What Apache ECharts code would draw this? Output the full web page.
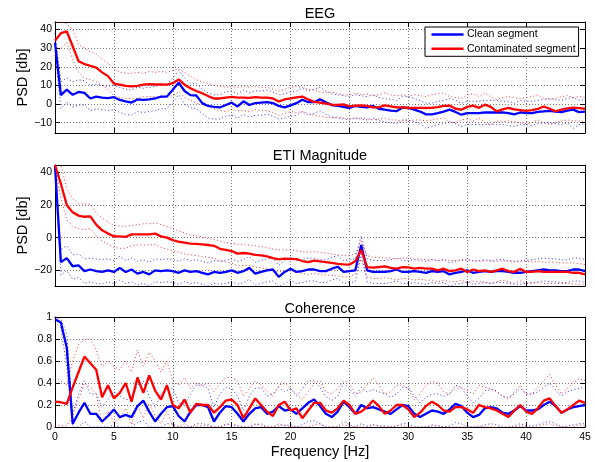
<!DOCTYPE html>
<html>
<head>
<meta charset="utf-8">
<script src="https://cdn.jsdelivr.net/npm/echarts@6/dist/echarts.min.js"></script>
<style>
html, body { margin: 0; padding: 0; background: #fff; }
#chart { width: 595px; height: 462px; }
</style>
</head>
<body>
<div id="chart"></div>
<script>
// sampling grid of the spectra, 0..45 Hz in 0.5 Hz steps
var freq = [];
for (var k = 0; k <= 90; k++) freq.push(k / 2);

var freqTicks = [0, 5, 10, 15, 20, 25, 30, 35, 40, 45];
var eegTicks = [-10, 0, 10, 20, 30, 40];
var etiTicks = [-20, 0, 20, 40];
var cohTicks = [0, 0.2, 0.4, 0.6, 0.8, 1];

// EEG PSD [db]
var eegClean = [
  33, 4.8, 7.7, 5, 6.5, 6, 3, 4, 3.5, 3.2,
  3.7, 2.2, 1.4, 0.8, 2.5, 2.3, 2.5, 3, 4, 4,
  7.7, 11.5, 7, 4.8, 4.6, 0.5, -1, -1.5, -1.8, -0.5,
  0.8, -1.3, 1.5, -0.5, 0.5, 0.8, 1.1, 0.5, -1, -1.8,
  -0.7, 0.5, 2.3, 1, 1, 2.6, 1, -0.5, -1, -1.5,
  -2.1, -1, -1.5, -1.8, -1, -2.5, -3, -3.5, -3.8, -1.8,
  -2.1, -3, -4, -5.5, -5.5, -4.8, -4, -3, -4.2, -5.7,
  -4.8, -4.8, -4.8, -4.5, -4.5, -4.5, -4.5, -4.8, -5.5, -4.5,
  -4.8, -4.8, -4.2, -3.9, -3.6, -4, -4.3, -3.5, -3, -4.3,
  -4
];
var eegCont = [
  34, 38, 39, 31, 23, 21.5, 20.5, 19.5, 17, 15,
  11, 10.4, 9.8, 9.5, 9.8, 10.4, 10.7, 10.5, 10.6, 10.4,
  11.2, 13.2, 10.4, 8.5, 7, 5.8, 4.3, 3, 3, 3.5,
  3.9, 3.5, 3.5, 3.3, 3.7, 3.5, 3.5, 3, 1.4, 2.5,
  3, 3.6, 4, 2.5, 1.2, 0.8, 0.3, -0.3, -0.5, -0.2,
  -1.2, -0.8, -0.7, -1, -1.8, -1.8, -0.7, -1.2, -1.8, -1.8,
  -2.1, -2, -2, -2.1, -2, -1.6, -1, -0.8, -2.5, -3,
  -1.5, -0.8, -2, -0.3, -1.5, -3.9, -2.8, -2, -2.8, -3.2,
  -3.6, -3.2, -2.6, -1.3, -2.5, -3.9, -3, -2.3, -1.9, -2.2,
  -2.5
];
var eegContHi = [
  44, 44, 43, 40, 32, 30, 28, 27, 24, 22,
  19, 17, 16.5, 16.5, 17, 16.5, 17.5, 17, 17.5, 17,
  18, 19, 17, 15, 13, 12, 11, 10, 9.5, 9,
  9.5, 9, 9.5, 9, 9.5, 9, 9, 8, 7, 8,
  9, 9.5, 9, 8, 7.5, 6.5, 6, 6.5, 5.5, 5,
  5, 6, 5, 5.5, 4.5, 5, 6, 5, 4.5, 5,
  4, 5, 4.5, 4, 5, 5.5, 6, 4, 3.5, 3,
  5, 5.5, 4, 6, 4, 2.5, 3.5, 4, 3.5, 3,
  3.5, 4, 5, 3, 2.5, 3, 4, 4.5, 3.5, 4,
  3.5
];
var eegContLo = [
  26, 30, 33, 24, 17, 14, 13, 12, 10, 8,
  4.5, 3.5, 3, 3, 3, 4, 4, 4, 3.5, 4,
  4.5, 6.5, 3.5, 2, 0.5, -0.5, -1.5, -2.5, -3.5, -4,
  -3, -3.5, -3.5, -4, -3, -3.5, -3.5, -4.5, -6, -5,
  -4, -4.5, -4, -5, -6, -6.5, -7, -7.5, -7, -7.5,
  -8, -7.5, -7.5, -8, -8.5, -8, -7.5, -8.5, -8.5, -9,
  -9, -8.5, -8.5, -9, -8.5, -8, -7.5, -9.5, -10, -8.5,
  -8, -9, -7.5, -10, -11, -9, -9.5, -9, -9.5, -10,
  -10.5, -10, -8.5, -10, -11, -10, -9, -8.5, -9, -9,
  -9.5
];
var eegCleanHi = [
  38, 12, 14, 12, 13, 12.5, 10, 10.5, 10, 9.5,
  10, 9, 8, 7.5, 9, 8.5, 9, 9.5, 10.5, 10.5,
  14, 18, 14, 11, 11, 8, 6, 5, 5, 6.5,
  7, 5.5, 7.5, 6, 7, 7, 7.5, 6.5, 5, 5.5,
  6.5, 7, 8.5, 7, 8, 9, 7, 5.5, 5, 4.5,
  4, 5, 4.5, 4, 5, 3.5, 3, 2.5, 2, 4,
  4, 3, 2, 0.5, 0.5, 1.5, 2, 3, 2, 0.5,
  1.5, 1.5, 1.5, 2, 2, 2, 1.5, 1.5, 0.5, 2,
  1.5, 1.5, 2, 2.5, 3, 2.5, 2, 3, 3.5, 2,
  2.5
];
var eegCleanLo = [
  28, -2.5, 1, -1.5, -0.5, -0.5, -3.5, -2.5, -3, -3.5,
  -3, -4.5, -5.5, -6, -4, -4.5, -4, -3.5, -2.5, -2.5,
  1, 5, 0, -2, -2.5, -5, -7.5, -8, -8, -6.5,
  -6, -7.5, -5.5, -7, -6, -6, -5.5, -6.5, -8, -7.5,
  -6.5, -6, -4, -6, -5, -3.5, -5.5, -7, -7.5, -8,
  -8.5, -7.5, -8, -8.5, -7.5, -9, -9.5, -10, -10.5, -8.5,
  -8.5, -9.5, -10.5, -13, -12, -11, -10.5, -9.5, -10.5, -12,
  -11, -11, -11, -11, -11, -11, -11, -11.5, -12, -11,
  -11, -11.5, -10.5, -10, -10, -10.5, -11, -10, -13, -11,
  -10.5
];

// ETI magnitude PSD [db]
var etiClean = [
  44, -15, -12.5, -17.5, -17, -20.5, -19.5, -20.5, -21, -20,
  -21, -18.5, -21, -19.5, -22, -21, -22.5, -20, -20.5, -20,
  -20.5, -21.5, -20, -21, -20.5, -21.5, -22.5, -21, -21.5, -21,
  -20, -21.5, -20.5, -18.5, -22, -21, -20, -19.5, -24, -21,
  -19, -21, -20.5, -19.5, -19.5, -20.5, -20.5, -19, -17.8, -21,
  -20.5, -20, -4.5, -20, -21, -21, -21, -20.5, -19.5, -21,
  -21, -20.5, -21, -21.5, -20.5, -21, -20.5, -22.5, -21.5, -21,
  -20, -21.5, -21, -20.5, -21, -20.5, -20.5, -21, -21.5, -21.5,
  -21, -20.5, -20, -19.5, -20, -20, -20.5, -20.5, -19.5, -19.5,
  -20.5
];
var etiCont = [
  44.5, 33, 20, 15.5, 13.5, 12.8, 13, 8, 4.5, 2.5,
  0.8, 0.8, 0.5, 2, 2, 2, 2, 2.5, 0.8, 0,
  -1.5, -2.5, -3, -3.7, -3.8, -4.1, -4.5, -5, -6.8, -7.5,
  -8.2, -9.8, -9.4, -9.8, -10.5, -10.9, -11.5, -12.5, -13.3, -12.9,
  -13, -13.2, -14.3, -15, -14, -14.5, -15, -15.5, -16, -16.4,
  -16.5, -14.5, -7.5, -18, -18.4, -18, -17.6, -18.5, -19, -18,
  -18.2, -19, -18.5, -19, -19, -20, -19, -20.5, -20, -19,
  -21, -19.5, -20.5, -20, -21, -20, -19, -20.5, -21, -19,
  -21, -21, -20.5, -21, -21, -21, -21, -21, -21.5, -21.5,
  -22.5
];
var etiContHi = [
  44.5, 44.5, 30, 24, 21, 20.5, 20.5, 15, 12, 9.5,
  7.5, 7, 7, 7.5, 8, 8.5, 8.5, 9, 8, 7,
  5.5, 4, 3, 1.5, 1, 0.5, -0.5, -1, -2, -3,
  -3.5, -4, -4.5, -4.5, -5, -5.5, -6, -7, -7.5, -7.5,
  -7.5, -8, -8.5, -9, -8.5, -9, -9.5, -10, -10.5, -11,
  -11, -10, -2, -11, -12, -12, -12.5, -12.5, -13, -12.5,
  -12.5, -13, -13, -13.5, -13.5, -14, -13.5, -14, -14, -13.5,
  -14, -14, -14.5, -14, -14.5, -14.5, -14, -14.5, -15, -14,
  -14.5, -15, -14.5, -15, -15, -15, -15.5, -15.5, -15.5, -16,
  -16.5
];
var etiContLo = [
  44, 24, 11, 7, 5.5, 5, 5.5, 1, -2, -4,
  -6, -6.5, -6.5, -5, -4.5, -4.5, -4.5, -4, -6, -7,
  -8, -9, -10, -10.5, -11, -11.5, -12, -12.5, -14, -15,
  -15.5, -17, -17, -17, -18, -18.5, -19, -20, -21, -20.5,
  -20.5, -21, -22, -22.5, -22, -22.5, -23, -23, -23.5, -24,
  -24, -22.5, -13, -24, -25, -25, -24.5, -25, -26, -25,
  -25, -26, -25.5, -26, -26, -27, -26, -27, -27, -26,
  -27.5, -26.5, -27, -27, -28, -27, -26, -27, -28, -26.5,
  -28, -28, -27.5, -28, -28, -28, -28, -28, -28.5, -28.5,
  -29
];
var etiCleanHi = [
  44, -7, -5, -10.5, -10, -13, -12.5, -13, -13.5, -13,
  -14, -11.5, -14, -12.5, -14.5, -13.5, -15, -13, -13.5, -13,
  -13.5, -14.5, -13, -14, -13.5, -14.5, -15.5, -14, -14.5, -14,
  -13, -14.5, -13.5, -11.5, -15, -14, -13, -12.5, -17, -14,
  -12, -14, -13.5, -12.5, -12.5, -13.5, -13.5, -12, -11, -14,
  -13.5, -13, 1, -13, -14, -14, -14, -13.5, -12.5, -14,
  -14, -13.5, -14, -14.5, -13.5, -14, -13.5, -15.5, -14.5, -14,
  -13, -14.5, -14, -13.5, -14, -13.5, -13.5, -14, -14.5, -14.5,
  -14, -13.5, -13, -12.5, -13, -13, -13.5, -13.5, -12.5, -12.5,
  -13.5
];
var etiCleanLo = [
  44, -23, -20, -25.5, -24.5, -28, -27, -28, -28.5, -27,
  -28, -26, -28, -27, -29, -28, -29.5, -27, -27.5, -27,
  -27.5, -28.5, -27, -28, -27.5, -28.5, -29.5, -28, -28.5, -28,
  -27, -28.5, -27.5, -25.5, -29, -28, -27, -26.5, -30, -28,
  -26, -28, -27.5, -26.5, -26.5, -27.5, -27.5, -26, -25, -28,
  -27.5, -27, -10, -27, -28, -28, -28, -27.5, -26.5, -28,
  -28, -27.5, -28, -28.5, -27.5, -28, -27.5, -29.5, -28.5, -28,
  -27, -28.5, -28, -27.5, -28, -27.5, -27.5, -28, -28.5, -28.5,
  -28, -27.5, -27, -26.5, -27, -27, -27.5, -27.5, -26.5, -26.5,
  -27.5
];

// coherence
var cohClean = [
  0.98, 0.95, 0.72, 0.03, 0.13, 0.22, 0.12, 0.12, 0.05, 0.1,
  0.16, 0.09, 0.11, 0.09, 0.19, 0.24, 0.14, 0.05, 0.12, 0.18,
  0.19, 0.1, 0.05, 0.14, 0.2, 0.2, 0.18, 0.05, 0.13, 0.19,
  0.18, 0.12, 0.05, 0.12, 0.17, 0.18, 0.12, 0.14, 0.19, 0.15,
  0.16, 0.12, 0.17, 0.22, 0.25, 0.19, 0.12, 0.09, 0.14, 0.23,
  0.18, 0.12, 0.2, 0.17, 0.18, 0.16, 0.14, 0.12, 0.16, 0.2,
  0.19, 0.12, 0.09, 0.12, 0.15, 0.14, 0.12, 0.16, 0.21, 0.19,
  0.13, 0.09, 0.11, 0.17, 0.18, 0.17, 0.13, 0.12, 0.15, 0.19,
  0.15, 0.15, 0.16, 0.2, 0.23, 0.19, 0.13, 0.16, 0.18, 0.19,
  0.2
];
var cohCont = [
  0.23, 0.225, 0.21, 0.36, 0.5, 0.64, 0.58, 0.52, 0.27, 0.38,
  0.26, 0.31, 0.4, 0.23, 0.45, 0.31, 0.47, 0.33, 0.25, 0.38,
  0.2, 0.17, 0.25, 0.13, 0.21, 0.2, 0.2, 0.13, 0.18, 0.24,
  0.25, 0.2, 0.08, 0.17, 0.26, 0.2, 0.14, 0.1, 0.2, 0.23,
  0.15, 0.17, 0.08, 0.15, 0.22, 0.22, 0.15, 0.13, 0.17, 0.24,
  0.2, 0.12, 0.14, 0.18, 0.24, 0.19, 0.12, 0.15, 0.2, 0.2,
  0.16, 0.09, 0.13, 0.19, 0.23, 0.2, 0.15, 0.14, 0.18, 0.18,
  0.16, 0.13, 0.2, 0.18, 0.17, 0.15, 0.12, 0.09, 0.15, 0.2,
  0.14, 0.12, 0.17, 0.24, 0.26, 0.19, 0.13, 0.16, 0.2, 0.24,
  0.22
];
var cohContHi = [
  0.45, 0.42, 0.38, 0.6, 0.75, 0.8, 0.8, 0.7, 0.55, 0.6,
  0.55, 0.52, 0.6, 0.5, 0.7, 0.55, 0.68, 0.6, 0.5, 0.6,
  0.42, 0.38, 0.45, 0.35, 0.4, 0.38, 0.4, 0.32, 0.4, 0.45,
  0.45, 0.42, 0.28, 0.35, 0.42, 0.38, 0.33, 0.28, 0.38, 0.4,
  0.35, 0.3, 0.25, 0.32, 0.4, 0.42, 0.32, 0.3, 0.35, 0.42,
  0.4, 0.3, 0.32, 0.38, 0.45, 0.38, 0.3, 0.32, 0.38, 0.38,
  0.35, 0.25, 0.3, 0.38, 0.42, 0.4, 0.32, 0.3, 0.35, 0.36,
  0.33, 0.3, 0.38, 0.36, 0.35, 0.32, 0.28, 0.25, 0.32, 0.38,
  0.3, 0.3, 0.36, 0.42, 0.48, 0.38, 0.3, 0.35, 0.4, 0.44,
  0.42
];
var cohContLo = [
  0.01, 0.01, 0.01, 0.1, 0.25, 0.4, 0.36, 0.3, 0.03, 0.14,
  0.04, 0.08, 0.17, 0.02, 0.2, 0.08, 0.22, 0.1, 0.03, 0.14,
  0.01, 0, 0.03, 0, 0.01, 0.01, 0.01, 0, 0, 0.02,
  0.03, 0.01, 0, 0, 0.03, 0.01, 0, 0, 0.01, 0.02,
  0, 0, 0, 0, 0.02, 0.03, 0, 0, 0, 0.02,
  0.01, 0, 0, 0, 0.02, 0.01, 0, 0, 0.01, 0.01,
  0, 0, 0, 0, 0.02, 0.01, 0, 0, 0, 0,
  0, 0, 0.01, 0, 0, 0, 0, 0, 0, 0.01,
  0, 0, 0, 0.02, 0.03, 0.01, 0, 0, 0, 0.02,
  0.01
];
var cohCleanHi = [
  1, 0.98, 0.85, 0.12, 0.3, 0.42, 0.3, 0.3, 0.18, 0.25,
  0.32, 0.28, 0.25, 0.25, 0.38, 0.42, 0.28, 0.18, 0.3, 0.35,
  0.35, 0.22, 0.2, 0.3, 0.38, 0.38, 0.35, 0.18, 0.3, 0.36,
  0.35, 0.28, 0.15, 0.28, 0.35, 0.36, 0.28, 0.3, 0.36, 0.32,
  0.35, 0.28, 0.35, 0.42, 0.42, 0.36, 0.28, 0.24, 0.28, 0.4,
  0.35, 0.28, 0.36, 0.32, 0.34, 0.32, 0.3, 0.27, 0.3, 0.36,
  0.36, 0.28, 0.22, 0.27, 0.3, 0.3, 0.28, 0.3, 0.38, 0.36,
  0.28, 0.22, 0.26, 0.33, 0.34, 0.33, 0.28, 0.27, 0.3, 0.35,
  0.3, 0.3, 0.32, 0.36, 0.4, 0.34, 0.28, 0.32, 0.34, 0.35,
  0.36
];
var cohCleanLo = [
  0.95, 0.9, 0.55, 0, 0, 0.05, 0, 0, 0, 0,
  0.02, 0, 0, 0, 0.04, 0.06, 0, 0, 0, 0.03,
  0.03, 0, 0, 0, 0.03, 0.03, 0.02, 0, 0, 0.03,
  0.02, 0, 0, 0, 0.02, 0.03, 0, 0, 0.03, 0.01,
  0.02, 0, 0.02, 0.05, 0.06, 0.03, 0, 0, 0, 0.05,
  0.02, 0, 0.03, 0.01, 0.02, 0.01, 0.01, 0, 0.01, 0.03,
  0.03, 0, 0, 0, 0.01, 0.01, 0, 0.01, 0.04, 0.03,
  0, 0, 0, 0.02, 0.03, 0.02, 0, 0, 0.01, 0.03,
  0.01, 0.01, 0.02, 0.04, 0.05, 0.03, 0, 0.01, 0.02, 0.03,
  0.03
];

var font = 'Liberation Sans, Arial, Helvetica, sans-serif';
var blue = '#0000ff';
var red = '#ff0000';

var panels = [
  {title: 'EEG', ylabel: 'PSD [db]', ymin: -15.5, ymax: 44, ticks: eegTicks,
   grid: {left: 55, top: 22, width: 530, height: 111}, titleTop: 6,
   clean: eegClean, cont: eegCont, bands: [eegCleanHi, eegCleanLo, eegContHi, eegContLo]},
  {title: 'ETI Magnitude', ylabel: 'PSD [db]', ymin: -29.6, ymax: 44.5, ticks: etiTicks,
   grid: {left: 55, top: 165, width: 530, height: 121}, titleTop: 148,
   clean: etiClean, cont: etiCont, bands: [etiCleanHi, etiCleanLo, etiContHi, etiContLo]},
  {title: 'Coherence', ylabel: '', ymin: 0, ymax: 1, ticks: cohTicks,
   grid: {left: 55, top: 317, width: 530, height: 110}, titleTop: 301,
   clean: cohClean, cont: cohCont, bands: [cohCleanHi, cohCleanLo, cohContHi, cohContLo]}
];

function pairs(ys) {
  return freq.map(function (f, k) { return [f, ys[k]]; });
}
function minusSign(v) {
  return String(v).replace('-', '\u2212');
}

var grids = [], xAxes = [], yAxes = [], titles = [], series = [];
panels.forEach(function (p, i) {
  grids.push(p.grid);
  titles.push({text: p.title, left: 320, top: p.titleTop, textAlign: 'center', padding: 0,
    textStyle: {fontFamily: font, fontSize: 14.5, fontWeight: 'normal', color: '#000'}});
  var last = i === panels.length - 1;
  xAxes.push({
    type: 'value', gridIndex: i, min: 0, max: 45, interval: 5, position: 'bottom',
    axisLine: {show: true, onZero: false, lineStyle: {color: '#000', width: 1}},
    axisTick: {show: true, inside: true, length: 5, lineStyle: {color: '#000'}},
    axisLabel: {show: last, margin: 5, fontFamily: font, fontSize: 10.5, color: '#000'},
    splitLine: {show: true, lineStyle: {color: '#7a7a7a', width: 1, type: [1, 2]}},
    name: last ? 'Frequency [Hz]' : '', nameLocation: 'middle', nameGap: 17, nameMoveOverlap: false,
    nameTextStyle: {fontFamily: font, fontSize: 14.5, color: '#000'}
  });
  xAxes.push({
    type: 'value', gridIndex: i, min: 0, max: 45, interval: 5, position: 'top',
    axisLine: {show: true, onZero: false, lineStyle: {color: '#000', width: 1}},
    axisTick: {show: true, inside: true, length: 5, lineStyle: {color: '#000'}},
    axisLabel: {show: false}, splitLine: {show: false}
  });
  yAxes.push({
    type: 'value', gridIndex: i, min: p.ymin, max: p.ymax, position: 'left',
    axisLine: {show: true, onZero: false, lineStyle: {color: '#000', width: 1}},
    axisTick: {show: true, inside: true, length: 5, customValues: p.ticks, lineStyle: {color: '#000'}},
    axisLabel: {show: true, customValues: p.ticks, margin: 3, fontFamily: font, fontSize: 10.5,
      color: '#000', formatter: minusSign},
    splitLine: {show: true, lineStyle: {color: '#7a7a7a', width: 1, type: [1, 2]}},
    name: p.ylabel, nameLocation: 'middle', nameRotate: 90, nameGap: 25, nameMoveOverlap: false,
    nameTextStyle: {fontFamily: font, fontSize: 14.5, color: '#000'}
  });
  yAxes.push({
    type: 'value', gridIndex: i, min: p.ymin, max: p.ymax, position: 'right',
    axisLine: {show: true, onZero: false, lineStyle: {color: '#000', width: 1}},
    axisTick: {show: true, inside: true, length: 5, customValues: p.ticks, lineStyle: {color: '#000'}},
    axisLabel: {show: false}, splitLine: {show: false}
  });

  var bandColors = [blue, blue, red, red];
  p.bands.forEach(function (b, j) {
    series.push({
      name: p.title + ' band ' + j, type: 'line', xAxisIndex: 2 * i, yAxisIndex: 2 * i,
      data: pairs(b), symbol: 'none', silent: true, z: 2,
      lineStyle: {color: bandColors[j], width: 1, type: [1, 2.5], opacity: 0.8}
    });
  });
  series.push({
    name: 'Clean segment', type: 'line', xAxisIndex: 2 * i, yAxisIndex: 2 * i,
    data: pairs(p.clean), symbol: 'none', z: 3,
    itemStyle: {color: blue}, lineStyle: {color: blue, width: 2.3}
  });
  series.push({
    name: 'Contaminated segment', type: 'line', xAxisIndex: 2 * i, yAxisIndex: 2 * i,
    data: pairs(p.cont), symbol: 'none', z: 4,
    itemStyle: {color: red}, lineStyle: {color: red, width: 2.3}
  });
});

var myChart = echarts.init(document.getElementById('chart'));
var option = {
  animation: false,
  backgroundColor: '#fff',
  title: titles,
  legend: {
    data: ['Clean segment', 'Contaminated segment'],
    orient: 'vertical', left: 425, top: 27, z: 10,
    backgroundColor: '#fff', borderColor: '#000', borderWidth: 1, borderRadius: 0,
    padding: [1.5, 3, 1.5, 6.5], itemGap: 2.3, itemWidth: 32, itemHeight: 2.5,
    icon: 'rect', selectedMode: false,
    textStyle: {fontFamily: font, fontSize: 10.5, color: '#000', lineHeight: 12, padding: [0, 0, 0, -1.5]}
  },
  grid: grids,
  xAxis: xAxes,
  yAxis: yAxes,
  series: series
};
myChart.setOption(option);
</script>
</body>
</html>
